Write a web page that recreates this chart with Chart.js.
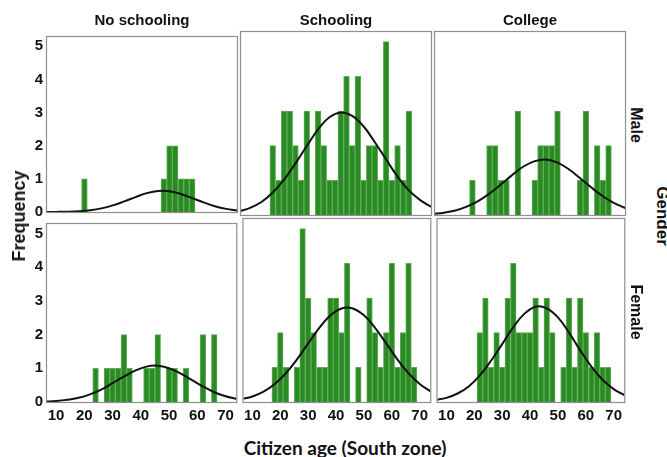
<!DOCTYPE html>
<html>
<head>
<meta charset="utf-8">
<script src="https://cdn.jsdelivr.net/npm/chart.js@4.4.1/dist/chart.umd.min.js"></script>
<style>
  html, body { margin: 0; padding: 0; background: #fff; }
  #fig { position: relative; width: 667px; height: 457px; overflow: hidden; background: #fff;
         font-family: "Liberation Sans", Arial, sans-serif; color: #111; }
  #fig canvas { position: absolute; }
  .lbl { position: absolute; white-space: nowrap; font-weight: bold; line-height: 1;
         transform: translate(-50%, -50%); }
  .rot-cw { transform: translate(-50%, -50%) rotate(90deg); }
  .rot-ccw { transform: translate(-50%, -50%) rotate(-90deg); }
</style>
</head>
<body>
<div id="fig"></div>
<script>
// Facet labels
const educationLevels = ['No schooling', 'Schooling', 'College'];
const genders = ['Male', 'Female'];

// Histogram bins (2-year wide, labelled by bin centre)
const ageBins = [18, 20, 22, 24, 26, 28, 30, 32, 34, 36, 38, 40, 42, 44, 46, 48, 50, 52, 54, 56, 58, 60, 62, 64, 66, 68];

// Counts per bin
const maleNoSchooling   = [0, 1, 0, 0, 0, 0, 0, 0, 0, 0, 0, 0, 0, 0, 0, 1, 2, 2, 1, 1, 1, 0, 0, 0, 0, 0];
const maleSchooling     = [2, 1, 3, 3, 2, 1, 3, 0, 3, 2, 1, 1, 3, 4, 2, 4, 1, 2, 2, 1, 5, 1, 2, 1, 3, 0];
const maleCollege       = [0, 1, 0, 0, 2, 2, 1, 1, 0, 3, 0, 0, 1, 2, 2, 2, 3, 0, 0, 0, 1, 3, 0, 2, 1, 2];
const femaleNoSchooling = [0, 0, 0, 1, 0, 1, 1, 1, 2, 1, 0, 0, 1, 1, 2, 0, 1, 1, 0, 1, 0, 0, 2, 0, 2, 0];
const femaleSchooling   = [1, 2, 1, 0, 1, 5, 3, 2, 1, 1, 3, 3, 2, 4, 0, 1, 0, 3, 2, 1, 2, 4, 1, 2, 4, 1];
const femaleCollege     = [0, 0, 2, 3, 1, 2, 1, 3, 4, 2, 2, 2, 3, 1, 3, 2, 0, 1, 3, 1, 3, 2, 1, 2, 1, 1];

// Normal curve overlay, sampled every 4 years
const curveAges = [6, 10, 14, 18, 22, 26, 30, 34, 38, 42, 46, 50, 54, 58, 62, 66, 70, 74];
const curveMaleNoSchooling   = [0, 0.003, 0.009, 0.024, 0.054, 0.11, 0.20, 0.32, 0.45, 0.57, 0.635, 0.625, 0.545, 0.42, 0.29, 0.175, 0.094, 0.045];
const curveMaleSchooling     = [0.10, 0.205, 0.376, 0.65, 1.02, 1.49, 1.99, 2.47, 2.82, 2.96, 2.86, 2.56, 2.10, 1.60, 1.11, 0.71, 0.43, 0.23];
const curveMaleCollege       = [0.031, 0.067, 0.13, 0.24, 0.40, 0.62, 0.88, 1.15, 1.40, 1.555, 1.60, 1.51, 1.32, 1.06, 0.79, 0.54, 0.34, 0.20];
const curveFemaleNoSchooling = [0.012, 0.029, 0.064, 0.124, 0.226, 0.37, 0.56, 0.75, 0.93, 1.05, 1.077, 1.00, 0.85, 0.655, 0.46, 0.29, 0.17, 0.09];
const curveFemaleSchooling   = [0.08, 0.16, 0.30, 0.52, 0.83, 1.23, 1.69, 2.14, 2.50, 2.70, 2.70, 2.50, 2.14, 1.69, 1.23, 0.83, 0.52, 0.30];
const curveFemaleCollege     = [0.055, 0.12, 0.245, 0.45, 0.77, 1.19, 1.67, 2.16, 2.55, 2.75, 2.70, 2.44, 2.00, 1.49, 1.02, 0.64, 0.37, 0.19];

// Axis ticks
const ageTicks = [10, 20, 30, 40, 50, 60, 70];
const freqTicks = [0, 1, 2, 3, 4, 5];

const panelCounts = [
  [maleNoSchooling, maleSchooling, maleCollege],
  [femaleNoSchooling, femaleSchooling, femaleCollege]
];
const panelCurves = [
  [curveMaleNoSchooling, curveMaleSchooling, curveMaleCollege],
  [curveFemaleNoSchooling, curveFemaleSchooling, curveFemaleCollege]
];

const fig = document.getElementById('fig');
const colLeft = [47, 241, 435];
const rowTop = [32, 219];
const areaW = 190, areaH = 183;
const pad = { left: 2, right: 2, top: 8, bottom: 10 };
const tickFont = { family: '"Liberation Sans", Arial, sans-serif', size: 15, weight: 'bold' };

// Grey box around every facet
const panelFrame = {
  id: 'panelFrame',
  afterDraw(chart) {
    const { ctx, chartArea: a } = chart;
    ctx.save();
    ctx.strokeStyle = '#8f8f8f';
    ctx.lineWidth = 1.2;
    ctx.strokeRect(a.left - 0.5, a.top - 0.5, a.right - a.left + 1, a.bottom - a.top + 1);
    ctx.restore();
  }
};

function addLabel(text, x, y, cls, style) {
  const d = document.createElement('div');
  d.className = 'lbl' + (cls ? ' ' + cls : '');
  d.textContent = text;
  d.style.left = x + 'px';
  d.style.top = y + 'px';
  Object.assign(d.style, style || {});
  fig.appendChild(d);
}

for (let r = 0; r < 2; r++) {
  for (let c = 0; c < 3; c++) {
    const yW = c === 0 ? 26 : 0;
    const xH = r === 1 ? 22 : 0;
    const w = pad.left + yW + areaW + pad.right;
    const h = pad.top + areaH + xH + pad.bottom;
    const cv = document.createElement('canvas');
    cv.width = w; cv.height = h;
    cv.style.width = w + 'px'; cv.style.height = h + 'px';
    cv.style.left = (colLeft[c] - pad.left - yW) + 'px';
    cv.style.top = (rowTop[r] - pad.top) + 'px';
    fig.appendChild(cv);

    const counts = panelCounts[r][c];
    const curve = panelCurves[r][c];

    new Chart(cv, {
      type: 'bar',
      data: {
        datasets: [
          {
            type: 'line',
            data: curveAges.map((a, i) => ({ x: a, y: curve[i] })),
            borderColor: '#111',
            borderWidth: 2,
            pointRadius: 0,
            tension: 0.4,
            fill: false,
            order: 0
          },
          {
            type: 'bar',
            data: ageBins.map((a, i) => ({ x: a, y: counts[i] })),
            backgroundColor: '#2a8b25',
            borderColor: '#62ae58',
            borderWidth: 1,
            barPercentage: 1,
            categoryPercentage: 1,
            order: 1
          }
        ]
      },
      options: {
        responsive: false,
        animation: false,
        devicePixelRatio: 1,
        layout: { padding: pad },
        plugins: { legend: { display: false }, tooltip: { enabled: false }, title: { display: false } },
        scales: {
          x: {
            type: 'linear',
            offset: false,
            min: 6.8,
            max: 73.8,
            display: r === 1,
            grid: { display: false, drawTicks: false, offset: false },
            border: { display: false },
            afterBuildTicks: s => { s.ticks = ageTicks.map(v => ({ value: v })); },
            afterFit: s => { s.height = xH; },
            ticks: { font: tickFont, color: '#111', padding: 5, maxRotation: 0, autoSkip: false }
          },
          y: {
            type: 'linear',
            min: 0,
            max: 5.28,
            display: c === 0,
            grid: { display: false, drawTicks: false },
            border: { display: false },
            afterBuildTicks: s => { s.ticks = freqTicks.map(v => ({ value: v })); },
            afterFit: s => { s.width = yW; },
            ticks: { font: tickFont, color: '#111', padding: 4 }
          }
        }
      },
      plugins: [panelFrame]
    });
  }
}

// Column titles
educationLevels.forEach((t, c) => addLabel(t, colLeft[c] + areaW / 2, 19, '', { fontSize: '15px' }));
// Row strips
genders.forEach((t, r) => addLabel(t, 636, rowTop[r] + areaH / 2 + 1, 'rot-cw', { fontSize: '16px' }));
addLabel('Gender', 662, 216, 'rot-cw', { fontSize: '17px' });
// Axis titles
addLabel('Frequency', 19, 216, 'rot-ccw', { fontSize: '18px' });
addLabel('Citizen age (South zone)', 345, 447, '', { fontSize: '19px', fontFamily: 'Lato, "Open Sans", sans-serif' });
</script>
</body>
</html>
